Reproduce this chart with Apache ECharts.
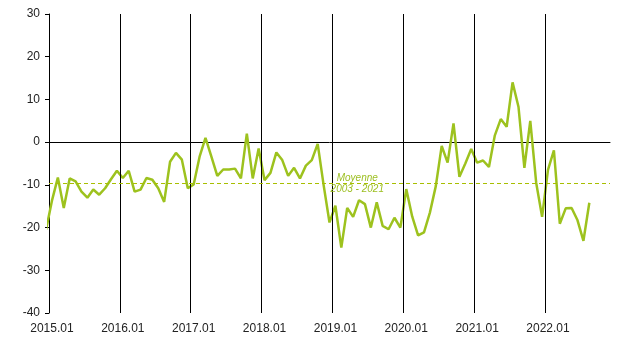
<!DOCTYPE html>
<html>
<head>
<meta charset="utf-8">
<script src="https://cdn.jsdelivr.net/npm/echarts@6/dist/echarts.min.js"></script>
<style>
  html, body { margin: 0; padding: 0; background: #fff; }
  #chart { width: 621px; height: 354px; }
</style>
</head>
<body>
<div id="chart"></div>
<script>
// monthly balance, Jan 2015 .. Aug 2022 (Dec 2014 only feeds the clipped start of the line)
const dec2014 = -20.5
const solde = [
  -13.7, -8.3, -15.4, -8.5, -9.2, -11.6, -13.0, -11.1, -12.3, -10.8, -8.7, -6.7,   // 2015
  -8.4, -6.7, -11.6, -11.1, -8.4, -8.8, -10.8, -14.0, -4.6, -2.5, -4.1, -10.8,     // 2016
  -9.9, -3.4, 1.0, -3.4, -7.9, -6.4, -6.4, -6.2, -8.5, 2.0, -8.5, -1.5,            // 2017
  -8.9, -7.2, -2.4, -4.2, -7.9, -6.0, -8.5, -5.5, -4.2, -0.4, -10.0, -18.8,        // 2018
  -14.9, -24.7, -15.4, -17.5, -13.6, -14.5, -20.0, -14.1, -19.6, -20.4, -17.7, -20.0, // 2019
  -11.0, -17.4, -21.8, -21.1, -16.5, -10.3, -0.9, -4.8, 4.4, -8.1, -5.0, -1.6,     // 2020
  -4.8, -4.3, -5.8, 1.6, 5.4, 3.6, 14.0, 8.3, -6.0, 5.0, -9.5, -17.5,             // 2021
  -6.5, -1.9, -19.1, -15.5, -15.4, -18.3, -23.1, -14.2                             // 2022
]
const moyenne = -9.7
const moyenneLabel = 'Moyenne\n2003 - 2021'
const years = [2015, 2016, 2017, 2018, 2019, 2020, 2021, 2022]
const nbMonths = 95
const yTicks = { min: -40, max: 30, interval: 10 }

const months = []
years.concat([2023]).forEach(function (y) {
  for (let m = 1; m <= 12; m++) {
    months.push(y + '.' + (m < 10 ? '0' + m : m))
  }
})
const categories = months.slice(0, nbMonths)

const lineData = [[-0.5, dec2014]].concat(solde.map(function (v, i) { return [i + 0.5, v] }))
const yearBounds = years.slice(1).map(function (y, i) { return (i + 1) * 12 })

const green = '#9dc21e'
const chart = echarts.init(document.getElementById('chart'))
chart.setOption({
  animation: false,
  grid: { left: 49, right: 11, top: 14, bottom: 41 },
  textStyle: { fontFamily: 'Liberation Sans, Arial, sans-serif' },
  xAxis: [{
    type: 'category',
    data: categories,
    boundaryGap: true,
    axisLine: { show: false, onZero: false },
    axisTick: { show: false },
    splitLine: { show: false },
    axisLabel: { interval: 11, color: '#222', fontSize: 12, margin: 10 }
  }, {
    type: 'value',
    min: 0,
    max: nbMonths,
    axisLine: { show: true, onZero: true, lineStyle: { color: '#000', width: 1 } },
    axisTick: { show: false },
    axisLabel: { show: false },
    splitLine: { show: false }
  }],
  yAxis: {
    type: 'value',
    min: yTicks.min,
    max: yTicks.max,
    interval: yTicks.interval,
    axisLine: { show: true, onZero: false, lineStyle: { color: '#000', width: 1 } },
    axisTick: { show: true, inside: false, length: 4, lineStyle: { color: '#000' } },
    axisLabel: { color: '#222', fontSize: 12, margin: 9 },
    splitLine: { show: false }
  },
  series: [{
    type: 'line',
    xAxisIndex: 1,
    data: lineData,
    symbol: 'none',
    clip: true,
    lineStyle: { color: green, width: 2.5 },
    markLine: {
      silent: true,
      symbol: 'none',
      label: { show: false },
      data: yearBounds.map(function (b) {
        return { xAxis: b, lineStyle: { color: '#000', width: 1, type: 'solid' } }
      }).concat([{ yAxis: moyenne, lineStyle: { color: '#a8bf00', width: 1.2, type: [4, 3] } }])
    },
    markPoint: {
      silent: true,
      symbol: 'circle',
      symbolSize: 0,
      itemStyle: { color: 'transparent' },
      data: [{
        coord: [52.2, moyenne],
        label: {
          show: true,
          position: 'inside',
          formatter: moyenneLabel,
          color: '#9dbf22',
          fontStyle: 'italic',
          fontSize: 10,
          lineHeight: 11.5,
          align: 'center'
        }
      }]
    }
  }]
})
</script>
</body>
</html>
